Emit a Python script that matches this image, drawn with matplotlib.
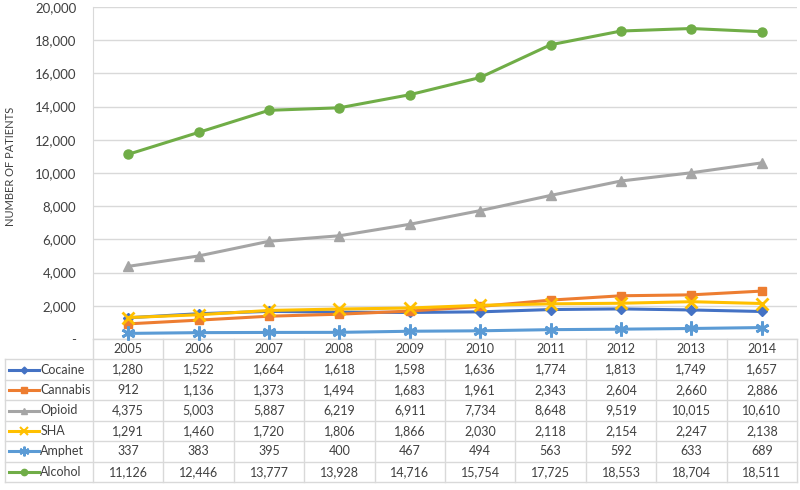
import matplotlib.pyplot as plt
from matplotlib.transforms import blended_transform_factory

plt.rcParams["font.family"] = ["Lato", "DejaVu Sans"]

years = ["2005", "2006", "2007", "2008", "2009", "2010", "2011", "2012", "2013", "2014"]
cocaine = [1280, 1522, 1664, 1618, 1598, 1636, 1774, 1813, 1749, 1657]
cannabis = [912, 1136, 1373, 1494, 1683, 1961, 2343, 2604, 2660, 2886]
opioid = [4375, 5003, 5887, 6219, 6911, 7734, 8648, 9519, 10015, 10610]
sha = [1291, 1460, 1720, 1806, 1866, 2030, 2118, 2154, 2247, 2138]
amphet = [337, 383, 395, 400, 467, 494, 563, 592, 633, 689]
alcohol = [11126, 12446, 13777, 13928, 14716, 15754, 17725, 18553, 18704, 18511]

series = [
    ("Cocaine", cocaine, "#4472C4", "D", 5),
    ("Cannabis", cannabis, "#ED7D31", "s", 6),
    ("Opioid", opioid, "#A5A5A5", "^", 7),
    ("SHA", sha, "#FFC000", "x", 8),
    ("Amphet", amphet, "#5B9BD5", (6, 2, 0), 10),
    ("Alcohol", alcohol, "#70AD47", "o", 6.5),
]

fig = plt.figure(figsize=(8, 4.9), dpi=100)
ax = fig.add_axes([93 / 800, 1 - 339 / 490, 704 / 800, 332 / 490])

x = list(range(len(years)))
for name, vals, col, mk, ms in series:
    ax.plot(x, vals, color=col, lw=2.2, marker=mk, ms=ms, mec=col, mew=2 if mk in ("x", (6, 2, 0)) else 1,
            clip_on=False, zorder=3)

ax.set_xlim(-0.5, 9.5)
ax.set_ylim(0, 20000)
ax.set_yticks(range(0, 20001, 2000))
ax.set_yticklabels(["-"] + [f"{v:,}" for v in range(2000, 20001, 2000)], fontsize=9.5, color="#404040")
ax.tick_params(axis="y", length=0, pad=12)
ax.set_xticks([])
ax.grid(axis="y", color="#D9D9D9", lw=1)
for s in ["top", "right", "bottom"]:
    ax.spines[s].set_visible(False)
ax.spines["left"].set_color("#D9D9D9")
ax.set_ylabel("NUMBER OF PATIENTS", fontsize=8, color="#404040")
ax.yaxis.set_label_coords(-0.109, 0.52)

# data table under the plot
tr = blended_transform_factory(ax.transData, ax.transAxes)
rh = 143 / 7 / 332
left = -0.5 - 88 / 70.4
gc = "#D9D9D9"
ax.plot([-0.5, 9.5], [0, 0], color=gc, lw=1, transform=tr, clip_on=False)
for k in range(1, 8):
    ax.plot([left, 9.5], [-k * rh, -k * rh], color=gc, lw=1, transform=tr, clip_on=False)
for i in range(11):
    ax.plot([-0.5 + i, -0.5 + i], [0, -7 * rh], color=gc, lw=1, transform=tr, clip_on=False)
ax.plot([left, left], [-rh, -7 * rh], color=gc, lw=1, transform=tr, clip_on=False)

tc = "#404040"
for i, yr in enumerate(years):
    ax.text(i, -0.5 * rh, yr, ha="center", va="center", fontsize=9, color=tc, transform=tr)
for r, (name, vals, col, mk, ms) in enumerate(series):
    yc = -(r + 1.5) * rh
    ax.plot([left + 0.06, left + 0.48], [yc, yc], color=col, lw=2.2, transform=tr, clip_on=False)
    ax.plot([left + 0.27], [yc], color=col, marker=mk, ms=ms * 0.7, mec=col,
            mew=1.5 if mk in ("x", (6, 2, 0)) else 1, transform=tr, clip_on=False)
    ax.text(left + 0.5, yc, name, ha="left", va="center", fontsize=9, color=tc, transform=tr)
    for i, v in enumerate(vals):
        ax.text(i, yc, f"{v:,}", ha="center", va="center", fontsize=9, color=tc, transform=tr)

fig.savefig("out.png", dpi=100)
